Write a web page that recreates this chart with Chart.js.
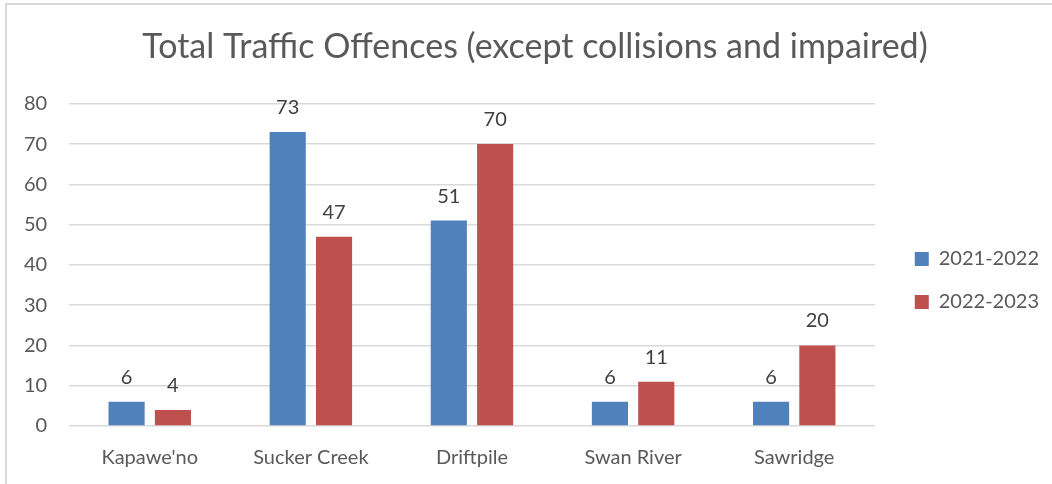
<!DOCTYPE html>
<html>
<head>
<meta charset="utf-8">
<script src="https://cdn.jsdelivr.net/npm/chart.js@4.4.0/dist/chart.umd.min.js"></script>
<style>
    body { margin: 0; background: #fff; }
    .frame {
        position: absolute; left: 5px; top: 3px; width: 1060px; height: 500px;
        border-top: 2px solid #d9d9d9; border-left: 2px solid #d9d9d9;
    }
    .wrap { position: absolute; left: 0; top: 0; width: 1052px; height: 484px; }
</style>
</head>
<body>
<div class="frame"></div>
<div class="wrap"><canvas id="myChart"></canvas></div>
<script>
// Dados do gráfico
const categories = ["Kapawe'no", 'Sucker Creek', 'Driftpile', 'Swan River', 'Sawridge'];
const values2122 = [6, 73, 51, 6, 6];
const values2223 = [4, 47, 70, 11, 20];
const seriesNames = ['2021-2022', '2022-2023'];

const fontFamily = 'Lato, "Open Sans", sans-serif';

// rótulos em cima das barras
const barLabels = {
    id: 'barLabels',
    afterDatasetsDraw(chart) {
        const ctx = chart.ctx;
        ctx.save();
        ctx.font = '20px ' + fontFamily;
        ctx.fillStyle = '#404040';
        ctx.textAlign = 'center';
        ctx.textBaseline = 'alphabetic';
        chart.data.datasets.forEach((ds, i) => {
            chart.getDatasetMeta(i).data.forEach((bar, j) => {
                ctx.fillText(ds.data[j], bar.x, bar.y - 18);
            });
        });
        ctx.restore();
    }
};

// empurra legenda e título um pouco para a direita
const nudge = {
    id: 'nudge',
    afterInit(chart) {
        [[chart.legend, 17], [chart.titleBlock, 18]].forEach(([box, dx]) => {
            const orig = box.draw;
            box.draw = function (area) {
                chart.ctx.save();
                chart.ctx.translate(dx, 0);
                orig.call(this, area);
                chart.ctx.restore();
            };
        });
    }
};

var data = {
    labels: categories,
    datasets: [{
        label: seriesNames[0],
        data: values2122,
        backgroundColor: '#4f81bd'
    },
    {
        label: seriesNames[1],
        data: values2223,
        backgroundColor: '#c0504d'
    }]
};

var options = {
    responsive: true,
    maintainAspectRatio: false,
    animation: false,
    layout: { padding: { left: 2, right: 20, top: 27, bottom: 2 } },
    datasets: { bar: { categoryPercentage: 0.575, barPercentage: 0.78 } },
    plugins: {
        title: {
            display: true,
            text: 'Total Traffic Offences (except collisions and impaired)',
            color: '#595959',
            font: { family: fontFamily, size: 34, weight: 'normal' },
            padding: { top: 0, bottom: 36 }
        },
        legend: {
            position: 'right',
            title: { display: true, text: '', font: { size: 10 }, padding: 20 },
            labels: {
                color: '#595959',
                font: { family: fontFamily, size: 20 },
                boxWidth: 14, boxHeight: 14,
                padding: 23
            }
        },
        tooltip: { enabled: false }
    },
    scales: {
        x: {
            grid: { display: false },
            border: { display: false },
            ticks: { color: '#595959', font: { family: fontFamily, size: 20 }, padding: 12 }
        },
        y: {
            min: 0, max: 80,
            border: { display: false },
            grid: { color: '#d9d9d9', lineWidth: 1.5, drawTicks: false },
            ticks: { stepSize: 10, color: '#595959', font: { family: fontFamily, size: 20 }, padding: 22 }
        }
    }
};

var ctx = document.getElementById('myChart').getContext('2d');
var myChart = new Chart(ctx, {
    type: 'bar',
    data: data,
    options: options,
    plugins: [barLabels, nudge]
});
</script>
</body>
</html>
